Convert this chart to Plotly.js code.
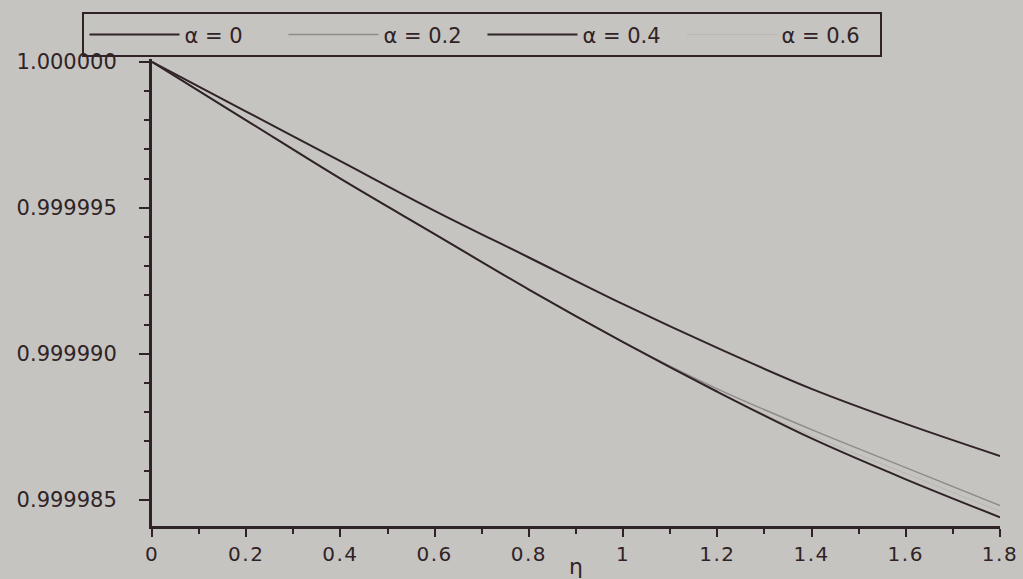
<!DOCTYPE html>
<html>
<head>
<meta charset="utf-8">
<script src="https://cdn.plot.ly/plotly-3.0.1.min.js"></script>
<style>
  html, body { margin: 0; padding: 0; background: #c6c4c0; }
  #chart { width: 1023px; height: 579px; }
  .xtick text { letter-spacing: 1.5px; }
</style>
</head>
<body>
<div id="chart"></div>
<script>
// eta values (x axis)
const eta = [0, 0.2, 0.4, 0.6, 0.8, 1.0, 1.2, 1.4, 1.6, 1.8];
// series
const alpha0  = [1.0000000, 0.9999983, 0.9999966, 0.9999949, 0.9999933, 0.9999917, 0.9999902, 0.9999888, 0.9999876, 0.9999865];
const alpha02 = [1.0000000, 0.9999980, 0.9999960, 0.9999941, 0.9999922, 0.9999904, 0.9999888, 0.9999874, 0.9999861, 0.9999848];
const alpha04 = [1.0000000, 0.9999980, 0.9999960, 0.9999941, 0.9999922, 0.9999904, 0.9999887, 0.9999871, 0.9999857, 0.9999844];
const alpha06 = [1.0000000, 0.9999980, 0.9999960, 0.9999941, 0.9999922, 0.9999904, 0.9999887, 0.9999872, 0.9999859, 0.9999846];
const seriesNames = ['\u03B1 = 0', '\u03B1 = 0.2', '\u03B1 = 0.4', '\u03B1 = 0.6'];
const yTickVals = [0.999985, 0.999990, 0.999995, 1.000000];
const yTickText = ['0.999985', '0.999990', '0.999995', '1.000000'];
const yMinorVals = [0.999986, 0.999987, 0.999988, 0.999989, 0.999991, 0.999992, 0.999993, 0.999994, 0.999996, 0.999997, 0.999998, 0.999999];
const xTickVals = [0, 0.2, 0.4, 0.6, 0.8, 1, 1.2, 1.4, 1.6, 1.8];
const xTickText = ['0', '0.2', '0.4', '0.6', '0.8', '1', '1.2', '1.4', '1.6', '1.8'];
const xMinorVals = [0.1, 0.3, 0.5, 0.7, 0.9, 1.1, 1.3, 1.5, 1.7];

const ink = '#2f2327';
const traces = [
  {y: alpha0,  name: seriesNames[0], legendrank: 1, line: {color: ink, width: 2}},
  {y: alpha02, name: seriesNames[1], legendrank: 2, line: {color: '#8f8c88', width: 1.5}},
  {y: alpha06, name: seriesNames[3], legendrank: 4, line: {color: '#bab7b2', width: 1}},
  {y: alpha04, name: seriesNames[2], legendrank: 3, line: {color: ink, width: 2}}
].map(t => {
  t.type = 'scatter'; t.mode = 'lines'; t.x = eta; t.line.shape = 'spline';
  return t;
});

const layout = {
  width: 1023, height: 579,
  margin: {l: 152, r: 23, t: 59, b: 53},
  paper_bgcolor: '#c6c4c0',
  plot_bgcolor: '#c6c4c0',
  font: {family: 'DejaVu Sans, sans-serif', color: ink, size: 16},
  showlegend: true,
  legend: {
    orientation: 'h', x: -0.082, xanchor: 'left', y: 1.1, yanchor: 'top',
    bordercolor: ink, borderwidth: 2, bgcolor: 'rgba(0,0,0,0)',
    itemwidth: 90, entrywidth: 94, entrywidthmode: 'pixels',
    traceorder: 'normal',
    font: {size: 21, color: ink}
  },
  xaxis: {
    range: [0, 1.8], showgrid: false, zeroline: false,
    showline: true, linecolor: ink, linewidth: 2.5,
    ticks: 'outside', ticklen: 8, tickwidth: 2, tickcolor: ink,
    tickvals: xTickVals, ticktext: xTickText,
    tickfont: {size: 20, color: ink},
    minor: {ticks: 'outside', ticklen: 5, tickwidth: 2, tickcolor: ink, tickvals: xMinorVals},
    title: {text: '\u03B7', font: {size: 22, color: ink}, standoff: 0}
  },
  yaxis: {
    range: [0.9999841, 1.0000001], showgrid: false, zeroline: false,
    showline: true, linecolor: ink, linewidth: 3,
    ticks: 'outside', ticklen: 10, tickwidth: 2, tickcolor: ink,
    tickvals: yTickVals, ticktext: yTickText,
    tickfont: {size: 21, color: ink}, ticklabelposition: 'outside', ticklabelstandoff: 18,
    minor: {ticks: 'outside', ticklen: 5, tickwidth: 2, tickcolor: ink, tickvals: yMinorVals}
  }
};

Plotly.newPlot('chart', traces, layout, {displayModeBar: false, staticPlot: true});
</script>
</body>
</html>
